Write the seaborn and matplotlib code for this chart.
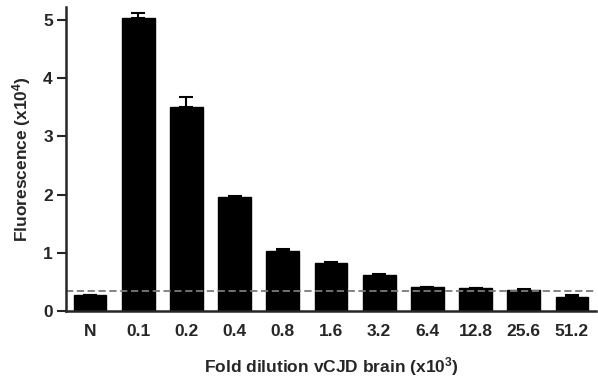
import matplotlib
matplotlib.use("Agg")
import matplotlib.pyplot as plt
import seaborn as sns
import pandas as pd
import numpy as np

categories = ["N", "0.1", "0.2", "0.4", "0.8", "1.6", "3.2", "6.4", "12.8", "25.6", "51.2"]
values = [0.28, 5.03, 3.50, 1.95, 1.03, 0.82, 0.62, 0.41, 0.39, 0.36, 0.24]
errors = [0.00, 0.09, 0.18, 0.02, 0.03, 0.02, 0.02, 0.01, 0.01, 0.02, 0.03]
threshold = 0.34

sns.set_theme(style="ticks")
plt.rcParams['font.family'] = ['Liberation Sans', 'DejaVu Sans']
plt.rcParams['font.weight'] = 'bold'
plt.rcParams['mathtext.fontset'] = 'custom'
plt.rcParams['mathtext.bf'] = 'Liberation Sans:bold'
plt.rcParams['mathtext.rm'] = 'Liberation Sans:bold'
plt.rcParams['mathtext.default'] = 'bf'

fig = plt.figure(figsize=(5.98, 3.83), dpi=100)
ax = fig.add_axes([66/598, 72/383, 530/598, 304/383])

df = pd.DataFrame({"cat": categories, "val": values})
sns.barplot(data=df, x="cat", y="val", color="black", width=0.68, ax=ax,
            saturation=1, errorbar=None, edgecolor="black")
x = np.arange(len(categories))
ax.errorbar(x, values, yerr=[np.zeros(len(errors)), errors], fmt="none",
            ecolor="black", elinewidth=1.5, capsize=5, capthick=1.5)
ax.axhline(threshold, color="#7a7a7a", linestyle=(0, (4, 2)), linewidth=1.3)

ax.set_xlim(-0.5, 10.5)
ax.set_ylim(0, 5.22)
ax.set_yticks([0, 1, 2, 3, 4, 5])
ax.tick_params(axis="y", length=6.5, width=1.5, labelsize=12.5, pad=3)
ax.tick_params(axis="x", length=0, labelsize=12.5, pad=9)
for lbl in ax.get_xticklabels() + ax.get_yticklabels():
    lbl.set_fontweight("bold")
ax.set_xlabel("Fold dilution vCJD brain (x10$^{3}$)", fontsize=12.5, fontweight="bold", labelpad=12)
ax.set_ylabel("Fluorescence (x10$^{4}$)", fontsize=12.5, fontweight="bold", labelpad=7)
sns.despine(ax=ax)
ax.spines["left"].set_linewidth(1.8)
ax.spines["bottom"].set_linewidth(1.8)

fig.savefig("out.png", dpi=100)
